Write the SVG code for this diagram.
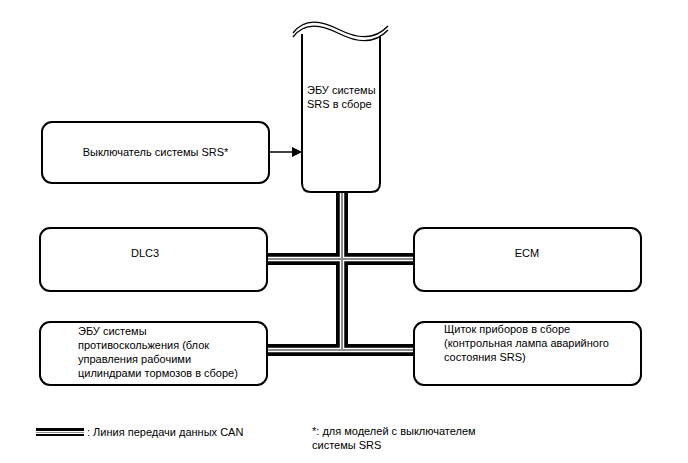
<svg xmlns="http://www.w3.org/2000/svg" width="688" height="463" viewBox="0 0 688 463">
<style>
.box{fill:#fff;stroke:#000;stroke-width:2}
.t{font-family:"Liberation Sans",Arial,sans-serif;font-size:11px;fill:#000}
.cb{stroke:#000;stroke-width:12;fill:none}
.cw{stroke:#fff;stroke-width:4.5;fill:none}
.cg{stroke:#8c8c8c;stroke-width:2;fill:none}
</style>
<defs>
<marker id="ah" markerWidth="10" markerHeight="10" refX="10" refY="5" orient="auto" markerUnits="userSpaceOnUse">
<path d="M0,0 L10,5 L0,10 Z" fill="#000"/>
</marker>
</defs>
<rect width="688" height="463" fill="#fff"/>
<g id="connectors">
<path class="cb" d="M342,192 V356 M267,259 H414 M267,350 H414"/>
<path class="cw" d="M342,192 V350 M267,259 H414 M267,350 H414"/>
<path class="cg" d="M342,192 V349 M267,259 H414 M267,350 H414"/>
<path d="M269,152 H302" stroke="#000" stroke-width="1.5" fill="none" marker-end="url(#ah)"/>
</g>
<g id="srs-ecu">
<path d="M302,34 V183 Q302,192 311,192 H371 Q380,192 380,183 V34" fill="#fff" stroke="#000" stroke-width="2"/>
<path d="M293,33 C305,17 322,21 340,30 C358,39 375,40 388,26 L388,30 C375,44 358,43 340,34 C322,25 305,21 293,37 Z" fill="#fff" stroke="none"/>
<path d="M293,33 C305,17 322,21 340,30 C358,39 375,40 388,26" fill="none" stroke="#000" stroke-width="1.3"/>
<path d="M293,37 C305,21 322,25 340,34 C358,43 375,44 388,30" fill="none" stroke="#000" stroke-width="1.3"/>
<text class="t" x="307" y="94">ЭБУ системы</text>
<text class="t" x="307" y="108">SRS в сборе</text>
</g>
<g id="srs-switch">
<rect class="box" x="42" y="122" width="227" height="61" rx="10"/>
<text class="t" x="155.5" y="156" text-anchor="middle">Выключатель системы SRS*</text>
</g>
<g id="dlc3">
<rect class="box" x="40" y="228" width="227" height="63" rx="10"/>
<text class="t" x="145" y="257" text-anchor="middle">DLC3</text>
</g>
<g id="ecm">
<rect class="box" x="414" y="228" width="227" height="63" rx="10"/>
<text class="t" x="527" y="257" text-anchor="middle">ECM</text>
</g>
<g id="abs-ecu">
<rect class="box" x="40" y="322" width="227" height="63" rx="10"/>
<text class="t" x="78" y="335">ЭБУ системы</text>
<text class="t" x="78" y="349">противоскольжения (блок</text>
<text class="t" x="78" y="363">управления рабочими</text>
<text class="t" x="78" y="377">цилиндрами тормозов в сборе)</text>
</g>
<g id="combination-meter">
<rect class="box" x="414" y="322" width="227" height="63" rx="10"/>
<text class="t" x="444" y="333">Щиток приборов в сборе</text>
<text class="t" x="444" y="347">(контрольная лампа аварийного</text>
<text class="t" x="444" y="361">состояния SRS)</text>
</g>
<g id="legend">
<path d="M36,432 H84" stroke="#000" stroke-width="8" fill="none"/>
<path d="M36,432.5 H84" stroke="#fff" stroke-width="3" fill="none"/>
<path d="M36,432.5 H84" stroke="#8c8c8c" stroke-width="1.2" fill="none"/>
<text class="t" x="87" y="436">: Линия передачи данных CAN</text>
<text class="t" x="312" y="435">*: для моделей с выключателем</text>
<text class="t" x="312" y="449">системы SRS</text>
</g>
</svg>
